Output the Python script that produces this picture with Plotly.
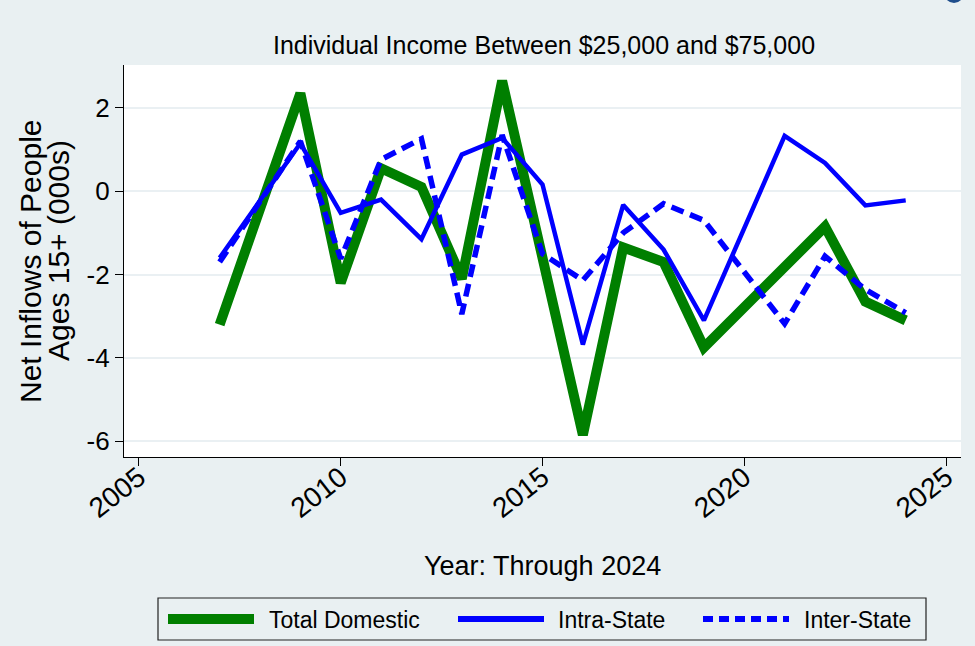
import plotly.graph_objects as go

# Net inflows (thousands of people, ages 15+), individual income $25k-$75k
years = [2007, 2009, 2010, 2011, 2012, 2013, 2014, 2015, 2016, 2017, 2018, 2019, 2021, 2022, 2023, 2024]
total_domestic = [-3.2, 2.35, -2.2, 0.55, 0.1, -2.1, 2.65, -1.5, -5.85, -1.35, -1.7, -3.75, -1.85, -0.85, -2.65, -3.1]
intra_state = [-1.6, 1.15, -0.52, -0.2, -1.15, 0.88, 1.28, 0.16, -3.68, -0.33, -1.4, -3.1, 1.33, 0.68, -0.34, -0.22]
inter_state = [-1.7, 1.2, -1.62, 0.76, 1.26, -2.95, 1.35, -1.5, -2.14, -1.0, -0.3, -0.7, -3.18, -1.56, -2.36, -2.92]

series_names = ["Total Domestic", "Intra-State", "Inter-State"]
x_ticks = [2005, 2010, 2015, 2020, 2025]
y_ticks = [-6, -4, -2, 0, 2]

title_text = "Individual Income Between $25,000 and $75,000"
x_title = "Year: Through 2024"
y_title_lines = ["Net Inflows of People", "Ages 15+ (000s)"]

W, H = 975, 646
L, R, T, B = 124, 14, 65, 189
BG = "#E9F0F2"
FONT = "Liberation Sans, Arial, sans-serif"
GREEN = "#007F00"
BLUE = "#0000FF"


def px(xp):
    return (xp - L) / (W - L - R)


def py(yp):
    return (H - B - yp) / (H - T - B)


fig = go.Figure()

fig.add_trace(go.Scatter(x=years, y=total_domestic, mode="lines", name=series_names[0],
                         line=dict(color=GREEN, width=10), showlegend=False))
fig.add_trace(go.Scatter(x=years, y=intra_state, mode="lines", name=series_names[1],
                         line=dict(color=BLUE, width=4.5), showlegend=False))
fig.add_trace(go.Scatter(x=years, y=inter_state, mode="lines", name=series_names[2],
                         line=dict(color=BLUE, width=5.5, dash="13px,7px"), showlegend=False))

shapes = [
    # zero reference line
    dict(type="line", xref="paper", yref="y", x0=0, x1=1, y0=0, y1=0,
         line=dict(color="#C8163C", width=1.8), layer="below"),
    # legend frame
    dict(type="rect", xref="paper", yref="paper", x0=px(158), x1=px(926), y0=py(598), y1=py(640),
         line=dict(color="#222222", width=1.2), fillcolor=BG),
    # legend samples
    dict(type="line", xref="paper", yref="paper", x0=px(168), x1=px(254), y0=py(619), y1=py(619),
         line=dict(color=GREEN, width=10)),
    dict(type="line", xref="paper", yref="paper", x0=px(458), x1=px(544), y0=py(619), y1=py(619),
         line=dict(color=BLUE, width=6)),
    dict(type="line", xref="paper", yref="paper", x0=px(703), x1=px(789), y0=py(619), y1=py(619),
         line=dict(color=BLUE, width=6, dash="10px,6px")),
    # corner badge
    dict(type="circle", xref="paper", yref="paper", x0=px(944), x1=px(964), y0=py(-17), y1=py(3),
         line=dict(width=0), fillcolor="#1F4E8C"),
]

annotations = [
    dict(text=series_names[0], xref="paper", yref="paper", x=px(267), y=py(620),
         xanchor="left", yanchor="middle", showarrow=False, font=dict(family=FONT, size=23, color="black")),
    dict(text=series_names[1], xref="paper", yref="paper", x=px(556), y=py(620),
         xanchor="left", yanchor="middle", showarrow=False, font=dict(family=FONT, size=23, color="black")),
    dict(text=series_names[2], xref="paper", yref="paper", x=px(802), y=py(620),
         xanchor="left", yanchor="middle", showarrow=False, font=dict(family=FONT, size=23, color="black")),
    dict(text=x_title, xref="paper", yref="paper", x=px(542), y=py(566),
         xanchor="center", yanchor="middle", showarrow=False, font=dict(family=FONT, size=27, color="black")),
    dict(text=y_title_lines[0], xref="paper", yref="paper", x=px(30), y=py(261),
         xanchor="center", yanchor="middle", textangle=-90, showarrow=False,
         font=dict(family=FONT, size=30, color="black")),
    dict(text=y_title_lines[1], xref="paper", yref="paper", x=px(58), y=py(251),
         xanchor="center", yanchor="middle", textangle=-90, showarrow=False,
         font=dict(family=FONT, size=30, color="black")),
]

fig.update_layout(
    width=W, height=H,
    margin=dict(l=L, r=R, t=T, b=B),
    paper_bgcolor=BG, plot_bgcolor="white",
    title=dict(text=title_text, x=px(544), xref="paper", xanchor="center",
               y=1 - 45 / H, yanchor="middle", font=dict(family=FONT, size=25, color="black")),
    shapes=shapes, annotations=annotations,
    showlegend=False,
    xaxis=dict(range=[2004.63, 2025.37], tickvals=x_ticks, ticktext=[str(v) for v in x_ticks],
               tickangle=-38, ticks="outside", ticklen=8, tickcolor="black",
               ticklabelstandoff=-16,
               showline=True, linecolor="black", linewidth=1.2, showgrid=False, zeroline=False,
               tickfont=dict(family=FONT, size=28, color="black")),
    yaxis=dict(range=[-6.38, 3.03], tickvals=y_ticks, ticktext=[str(v) for v in y_ticks],
               ticks="outside", ticklen=8, tickcolor="black",
               showline=True, linecolor="black", linewidth=1.2,
               showgrid=True, gridcolor="#EAF0F3", gridwidth=1.5, zeroline=False,
               tickfont=dict(family=FONT, size=26, color="black")),
)

fig.write_html("out.html")
